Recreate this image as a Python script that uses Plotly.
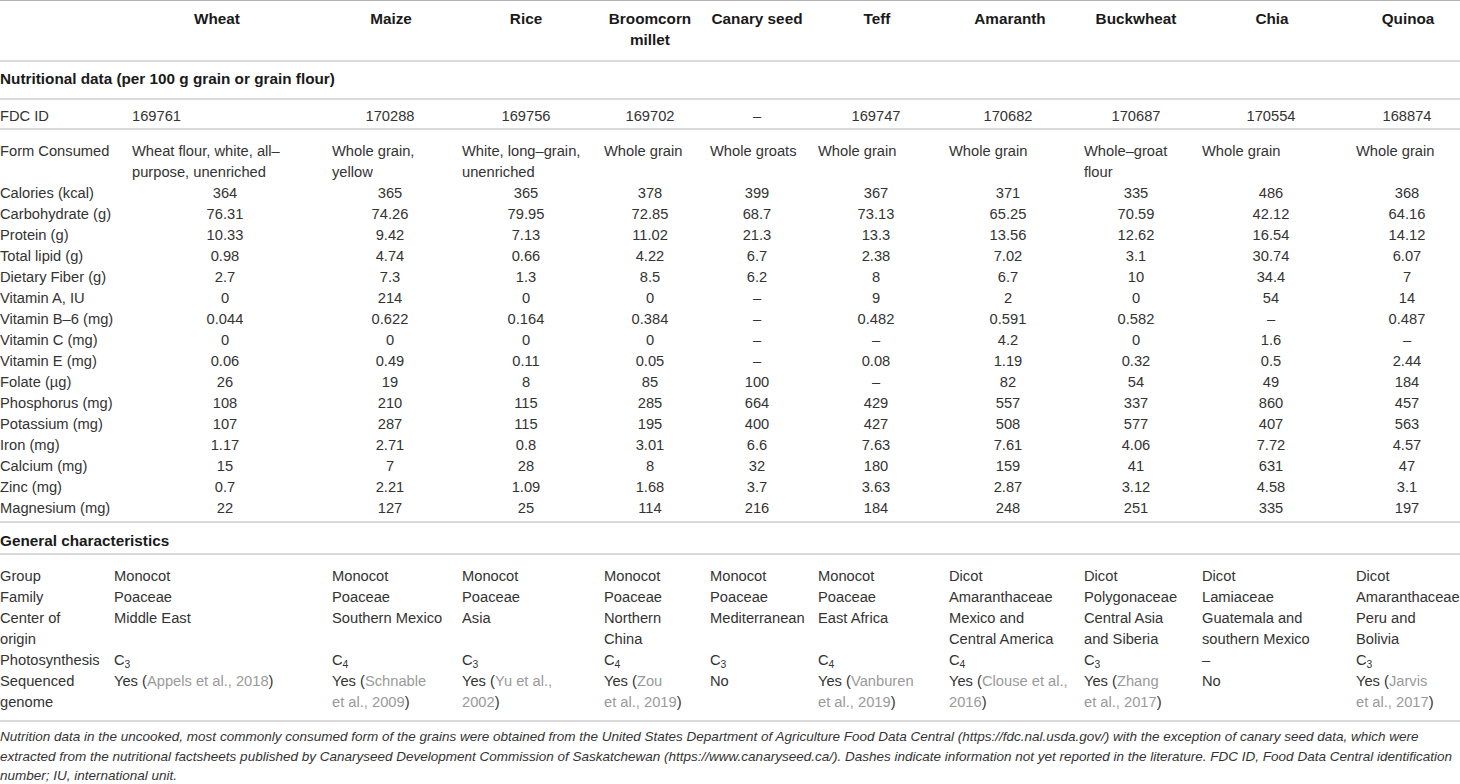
import plotly.graph_objects as go

# ---- table content ----
grains = ["Wheat", "Maize", "Rice", "Broomcorn<br>millet", "Canary seed", "Teff",
          "Amaranth", "Buckwheat", "Chia", "Quinoa"]

fdc_id = ["169761", "170288", "169756", "169702", "–", "169747",
          "170682", "170687", "170554", "168874"]
form_consumed = ["Wheat flour, white, all–<br>purpose, unenriched", "Whole grain,<br>yellow",
                 "White, long–grain,<br>unenriched", "Whole grain", "Whole groats",
                 "Whole grain", "Whole grain", "Whole–groat<br>flour", "Whole grain",
                 "Whole grain"]

nutrient_labels = ["Calories (kcal)", "Carbohydrate (g)", "Protein (g)", "Total lipid (g)",
                   "Dietary Fiber (g)", "Vitamin A, IU", "Vitamin B–6 (mg)", "Vitamin C (mg)",
                   "Vitamin E (mg)", "Folate (µg)", "Phosphorus (mg)", "Potassium (mg)",
                   "Iron (mg)", "Calcium (mg)", "Zinc (mg)", "Magnesium (mg)"]
calories = ["364", "365", "365", "378", "399", "367", "371", "335", "486", "368"]
carbohydrate = ["76.31", "74.26", "79.95", "72.85", "68.7", "73.13", "65.25", "70.59", "42.12", "64.16"]
protein = ["10.33", "9.42", "7.13", "11.02", "21.3", "13.3", "13.56", "12.62", "16.54", "14.12"]
total_lipid = ["0.98", "4.74", "0.66", "4.22", "6.7", "2.38", "7.02", "3.1", "30.74", "6.07"]
dietary_fiber = ["2.7", "7.3", "1.3", "8.5", "6.2", "8", "6.7", "10", "34.4", "7"]
vitamin_a = ["0", "214", "0", "0", "–", "9", "2", "0", "54", "14"]
vitamin_b6 = ["0.044", "0.622", "0.164", "0.384", "–", "0.482", "0.591", "0.582", "–", "0.487"]
vitamin_c = ["0", "0", "0", "0", "–", "–", "4.2", "0", "1.6", "–"]
vitamin_e = ["0.06", "0.49", "0.11", "0.05", "–", "0.08", "1.19", "0.32", "0.5", "2.44"]
folate = ["26", "19", "8", "85", "100", "–", "82", "54", "49", "184"]
phosphorus = ["108", "210", "115", "285", "664", "429", "557", "337", "860", "457"]
potassium = ["107", "287", "115", "195", "400", "427", "508", "577", "407", "563"]
iron = ["1.17", "2.71", "0.8", "3.01", "6.6", "7.63", "7.61", "4.06", "7.72", "4.57"]
calcium = ["15", "7", "28", "8", "32", "180", "159", "41", "631", "47"]
zinc = ["0.7", "2.21", "1.09", "1.68", "3.7", "3.63", "2.87", "3.12", "4.58", "3.1"]
magnesium = ["22", "127", "25", "114", "216", "184", "248", "251", "335", "197"]
nutrient_values = [calories, carbohydrate, protein, total_lipid, dietary_fiber, vitamin_a,
                   vitamin_b6, vitamin_c, vitamin_e, folate, phosphorus, potassium, iron,
                   calcium, zinc, magnesium]

general_labels = ["Group", "Family", "Center of<br>origin", "Photosynthesis", "Sequenced<br>genome"]
group = ["Monocot"] * 6 + ["Dicot"] * 4
family = ["Poaceae"] * 6 + ["Amaranthaceae", "Polygonaceae", "Lamiaceae", "Amaranthaceae"]
center_of_origin = ["Middle East", "Southern Mexico", "Asia", "Northern<br>China", "Mediterranean",
                    "East Africa", "Mexico and<br>Central America", "Central Asia<br>and Siberia",
                    "Guatemala and<br>southern Mexico", "Peru and<br>Bolivia"]
photosynthesis = ["C<sub>3</sub>", "C<sub>4</sub>", "C<sub>3</sub>", "C<sub>4</sub>", "C<sub>3</sub>",
                  "C<sub>4</sub>", "C<sub>4</sub>", "C<sub>3</sub>", "–", "C<sub>3</sub>"]
genome_status = ["Yes", "Yes", "Yes", "Yes", "No", "Yes", "Yes", "Yes", "No", "Yes"]
genome_refs = ["Appels et al., 2018", "Schnable<br>et al., 2009", "Yu et al.,<br>2002",
               "Zou<br>et al., 2019", "", "Vanburen<br>et al., 2019", "Clouse et al.,<br>2016",
               "Zhang<br>et al., 2017", "", "Jarvis<br>et al., 2017"]

section_titles = ["Nutritional data (per 100 g grain or grain flour)", "General characteristics"]
caption_lines = [
    "Nutrition data in the uncooked, most commonly consumed form of the grains were obtained from the "
    "United States Department of Agriculture Food Data Central (https://fdc.nal.usda.gov/) with the "
    "exception of canary seed data, which were",
    "extracted from the nutritional factsheets published by Canaryseed Development Commission of "
    "Saskatchewan (https://www.canaryseed.ca/). Dashes indicate information not yet reported in the "
    "literature. FDC ID, Food Data Central identification",
    "number; IU, international unit.",
]

# ---- layout / style ----
W, H = 1460, 784
LINE = 21
FONT = "Liberation Sans, Arial, sans-serif"
TEXT = "#333333"
BOLD = "#1a1a1a"
CITE = "#9a9a9a"
RULE = "#b4b4b4"
HEADER_X = [217, 391, 526, 650, 757, 877, 1010, 1136, 1272, 1408]
VALUE_X = [225, 390, 526, 650, 757, 876, 1008, 1136, 1271, 1407]
TEXT_LEFT = [132, 332, 462, 604, 710, 818, 949, 1084, 1202, 1356]
GENERAL_LEFT = [114] + TEXT_LEFT[1:]
LABEL_X = 0


def genome_cell(status, ref):
    if not ref:
        return status
    parts = [f"<span style='color:{CITE}'>{p}</span>" for p in ref.split("<br>")]
    parts[0] = f"{status} (" + parts[0]
    parts[-1] = parts[-1] + ")"
    return "<br>".join(parts)


genome = [genome_cell(s, r) for s, r in zip(genome_status, genome_refs)]

kinds = ["left", "center", "bold_left", "bold_center", "caption"]
buckets = {k: {"x": [], "y": [], "text": []} for k in kinds}
rules = []


def put(kind, x, y, cell):
    lines = cell.split("<br>")
    for i, line in enumerate(lines):
        buckets[kind]["x"].append(x)
        buckets[kind]["y"].append(y + i * LINE)
        buckets[kind]["text"].append(line)
    return len(lines)


def put_row(y, label, cells, xs, kind):
    n = put("left", LABEL_X, y, label)
    for x, c in zip(xs, cells):
        n = max(n, put(kind, x, y, c))
    return n


# header
y = 0.5
rules.append(y)
y += 19.5
n = max(put("bold_center", x, y, g) for x, g in zip(HEADER_X, grains))
y += (n - 1) * LINE + 20
rules.append(y)

# nutritional section
y += 19
put("bold_left", LABEL_X, y, section_titles[0])
y += 19
rules.append(y)
y += 18
put("left", LABEL_X, y, "FDC ID")
put("left", TEXT_LEFT[0], y, fdc_id[0])
for x, v in zip(VALUE_X[1:], fdc_id[1:]):
    put("center", x, y, v)
y += 12
rules.append(y)
y += 23
n = put_row(y, "Form Consumed", form_consumed, TEXT_LEFT, "left")
y += n * LINE
for label, vals in zip(nutrient_labels, nutrient_values):
    n = put_row(y, label, vals, VALUE_X, "center")
    y += n * LINE
y += 13 - LINE
rules.append(y)

# general section
y += 20
put("bold_left", LABEL_X, y, section_titles[1])
y += 12
rules.append(y)
y += 23
for label, vals in zip(general_labels, [group, family, center_of_origin, photosynthesis, genome]):
    n = put_row(y, label, vals, GENERAL_LEFT, "left")
    y += n * LINE
y += 18 - LINE
rules.append(y)

# caption
y += 17
for line in caption_lines:
    buckets["caption"]["x"].append(LABEL_X)
    buckets["caption"]["y"].append(y)
    buckets["caption"]["text"].append(f"<i>{line}</i>")
    y += 19.5

styles = {
    "left": ("middle right", 14.7, TEXT),
    "center": ("middle center", 14.7, TEXT),
    "bold_left": ("middle right", 15.3, BOLD),
    "bold_center": ("middle center", 15.3, BOLD),
    "caption": ("middle right", 13.5, TEXT),
}

fig = go.Figure()
for kind, b in buckets.items():
    pos, size, color = styles[kind]
    texts = [f"<b>{t}</b>" for t in b["text"]] if kind.startswith("bold") else b["text"]
    fig.add_trace(go.Scatter(
        x=b["x"], y=b["y"], text=texts, mode="text",
        textposition=pos, textfont=dict(family=FONT, size=size, color=color),
        hoverinfo="skip", showlegend=False, cliponaxis=False,
    ))

for r in rules:
    fig.add_shape(type="line", xref="paper", x0=0, x1=1, yref="y", y0=r, y1=r,
                  line=dict(color=RULE, width=1))

fig.update_layout(
    width=W, height=H,
    margin=dict(l=0, r=0, t=0, b=0),
    paper_bgcolor="white", plot_bgcolor="white",
    xaxis=dict(range=[0, W], visible=False, fixedrange=True),
    yaxis=dict(range=[H, 0], visible=False, fixedrange=True),
)

fig.write_html("out.html", config={"displayModeBar": False},
               post_script="document.body.style.margin='0';")
